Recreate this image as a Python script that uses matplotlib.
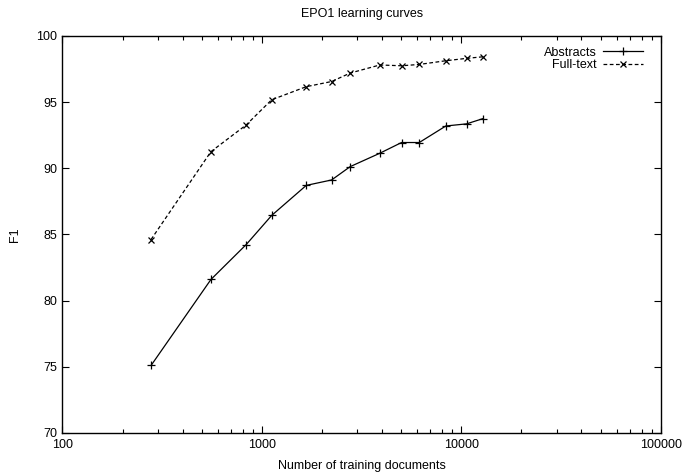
import matplotlib
matplotlib.use("Agg")
import matplotlib.pyplot as plt
from matplotlib.ticker import LogLocator, NullFormatter, FixedLocator

plt.rcParams['font.family'] = ['Liberation Sans', 'DejaVu Sans']

abs_x = [278, 555, 834, 1119, 1668, 2235, 2771, 3900, 5012, 6148, 8356, 10620, 12850]
abs_y = [75.1, 81.6, 84.24, 86.44, 88.71, 89.12, 90.13, 91.14, 91.95, 91.95, 93.2, 93.36, 93.76]
full_x = [278, 555, 834, 1119, 1668, 2235, 2771, 3900, 5012, 6148, 8356, 10620, 12850]
full_y = [84.62, 91.26, 93.28, 95.18, 96.17, 96.56, 97.2, 97.81, 97.75, 97.85, 98.13, 98.31, 98.43]
xticks = [100, 1000, 10000, 100000]
yticks = [70, 75, 80, 85, 90, 95, 100]

fig = plt.figure(figsize=(6.82, 4.73), dpi=100)
ax = fig.add_axes([0.0916, 0.0846, 0.969 - 0.0916, 0.9239 - 0.0846])

ax.plot(abs_x, abs_y, color='black', lw=0.9, marker='+', markersize=6,
        markeredgewidth=0.9, label='Abstracts')
ax.plot(full_x, full_y, color='black', lw=0.9, linestyle=(0, (3, 2)), marker='x',
        markersize=5, markeredgewidth=0.9, label='Full-text')

ax.set_xscale('log')
ax.set_xlim(100, 100000)
ax.set_ylim(70, 100)
ax.xaxis.set_major_locator(FixedLocator(xticks))
ax.set_xticklabels([str(v) for v in xticks])
ax.xaxis.set_minor_locator(LogLocator(base=10, subs=range(2, 10)))
ax.xaxis.set_minor_formatter(NullFormatter())
ax.set_yticks(yticks)
ax.set_yticklabels([str(v) for v in yticks])

ax.tick_params(which='both', direction='in', top=True, right=True, labelsize=9, pad=4)
ax.tick_params(which='major', length=5, width=0.8)
ax.tick_params(which='minor', length=3, width=0.8)
for s in ax.spines.values():
    s.set_linewidth(1.0)

ax.set_xlabel('Number of training documents', fontsize=9, labelpad=7)
ax.set_ylabel('F1', fontsize=9, labelpad=11)
ax.set_title('EPO1 learning curves', fontsize=9, pad=14)

leg = ax.legend(loc='upper right', frameon=False, markerfirst=False, fontsize=9,
                handlelength=3.2, handletextpad=0.5, labelspacing=0.05,
                borderaxespad=0.3, bbox_to_anchor=(0.985, 0.995))
for t in leg.get_texts():
    t.set_ha('right')

fig.savefig('out.png', dpi=100)
